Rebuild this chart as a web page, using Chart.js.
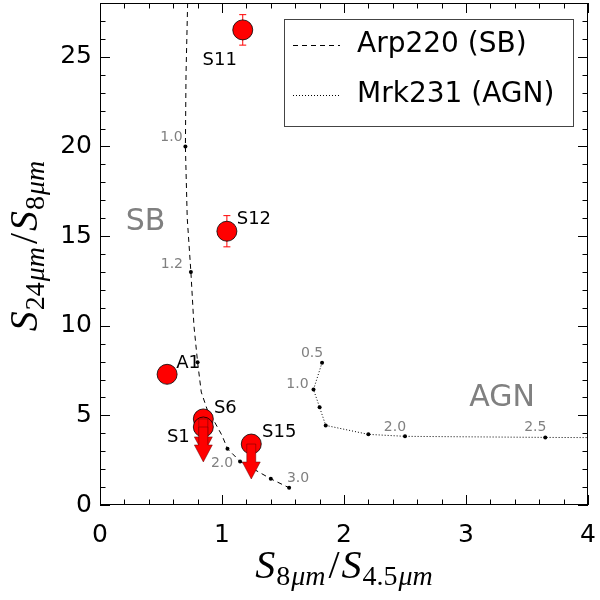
<!DOCTYPE html>
<html>
<head>
<meta charset="utf-8">
<script src="https://cdn.jsdelivr.net/npm/chart.js@4.4.0/dist/chart.umd.min.js"></script>
<style>
html, body { margin: 0; padding: 0; background: #fff; }
</style>
</head>
<body>
<canvas id="chart" width="600" height="600"></canvas>
<script>
// Arp220 (starburst) template track
const sbX = [0.72, 0.705, 0.70, 0.715, 0.745, 0.77, 0.80, 0.83, 0.88, 0.94, 1.0, 1.045, 1.148, 1.40, 1.55];
const sbY = [28.5, 24.0, 20.0, 16.0, 13.0, 10.0, 7.96, 6.3, 5.3, 4.62, 3.88, 3.14, 2.43, 1.46, 0.96];
const sbMarkX = [0.70, 0.745, 0.80, 1.045, 1.148, 1.40, 1.55];
const sbMarkY = [20.0, 13.0, 7.96, 3.14, 2.43, 1.46, 0.96];
const sbMarkLabel = ['1.0', '1.2', '', '', '2.0', '', '3.0'];

// Mrk231 (AGN) template track
const agnX = [1.82, 1.75, 1.80, 1.85, 2.20, 2.50, 3.65, 4.3];
const agnY = [7.94, 6.44, 5.45, 4.44, 3.94, 3.83, 3.77, 3.75];
const agnMarkX = [1.82, 1.75, 1.80, 1.85, 2.20, 2.50, 3.65];
const agnMarkY = [7.94, 6.44, 5.45, 4.44, 3.94, 3.83, 3.77];
const agnMarkLabel = ['0.5', '1.0', '', '', '', '2.0', '2.5'];

// sources
const srcName = ['S11', 'S12', 'A1', 'S6', 'S1', 'S15'];
const srcX = [1.17, 1.04, 0.55, 0.847, 0.847, 1.24];
const srcY = [26.5, 15.27, 7.29, 4.8, 4.35, 3.4];
const srcErr = [0.85, 0.87, 0, 0, 0, 0];
const srcUpper = [false, false, false, true, true, true];
const limitLen = 1.95;

const regionText = ['SB', 'AGN'];
const regionX = [0.373, 3.295];
const regionY = [15.77, 5.95];

const xTicks = [0, 1, 2, 3, 4];
const yTicks = [0, 5, 10, 15, 20, 25];

// label offsets in px
const srcLabelOff = [[-23, 30], [27, -12], [21, -11], [22, -11], [-25, 10], [28, -12]];
const sbLabelOff = [[-14, -9], [-19, -8], null, null, [-18, 2], null, [9, -9]];
const agnLabelOff = [[-10, -9], [-16, -5], null, null, null, [-10, -9], [-10, -10]];

const pts = (xs, ys) => xs.map((x, i) => ({ x: x, y: ys[i] }));

function drawMath(ctx, runs, big, small) {
  // measure then draw runs centred on the origin, baseline at y=0
  const fontOf = r => (r.it ? 'italic ' : '') + (r.sub ? small : big) + 'px "Liberation Serif"';
  let w = 0;
  runs.forEach(r => { ctx.font = fontOf(r); r.w = ctx.measureText(r.t).width + (r.gap || 0); w += r.w; });
  let x = -w / 2;
  ctx.textAlign = 'left';
  ctx.textBaseline = 'alphabetic';
  runs.forEach(r => {
    ctx.font = fontOf(r);
    ctx.fillText(r.t, x, r.sub ? 7 : 0);
    x += r.w;
  });
}

const decor = {
  id: 'decor',
  beforeDatasetsDraw(chart) {
    const { ctx, scales: { x, y } } = chart;
    ctx.save();
    ctx.strokeStyle = '#ff0000';
    ctx.lineWidth = 1;
    srcErr.forEach((e, i) => {
      if (!e) return;
      const px = x.getPixelForValue(srcX[i]);
      const y1 = y.getPixelForValue(srcY[i] + e);
      const y2 = y.getPixelForValue(srcY[i] - e);
      ctx.beginPath();
      ctx.moveTo(px, y1); ctx.lineTo(px, y2);
      ctx.moveTo(px - 3.5, y1); ctx.lineTo(px + 3.5, y1);
      ctx.moveTo(px - 3.5, y2); ctx.lineTo(px + 3.5, y2);
      ctx.stroke();
    });
    ctx.restore();
  },
  afterDatasetsDraw(chart) {
    const { ctx, chartArea: a, scales: { x, y } } = chart;
    ctx.save();

    // upper-limit arrows
    srcUpper.forEach((u, i) => {
      if (!u) return;
      const px = x.getPixelForValue(srcX[i]);
      const py = y.getPixelForValue(srcY[i]);
      const ty = y.getPixelForValue(srcY[i] - limitLen);
      const hy = ty - 17;
      ctx.beginPath();
      ctx.moveTo(px - 4.5, py); ctx.lineTo(px + 4.5, py);
      ctx.lineTo(px + 4.5, hy); ctx.lineTo(px + 9, hy);
      ctx.lineTo(px, ty); ctx.lineTo(px - 9, hy);
      ctx.lineTo(px - 4.5, hy); ctx.closePath();
      ctx.fillStyle = '#ff0000';
      ctx.fill();
      ctx.strokeStyle = 'rgba(90,0,0,0.8)';
      ctx.lineWidth = 0.6;
      ctx.stroke();
    });

    // track labels
    ctx.fillStyle = '#808080';
    ctx.font = '14px "DejaVu Sans"';
    ctx.textAlign = 'center';
    ctx.textBaseline = 'middle';
    sbMarkLabel.forEach((t, i) => {
      if (!t) return;
      ctx.fillText(t, x.getPixelForValue(sbMarkX[i]) + sbLabelOff[i][0], y.getPixelForValue(sbMarkY[i]) + sbLabelOff[i][1]);
    });
    agnMarkLabel.forEach((t, i) => {
      if (!t) return;
      ctx.fillText(t, x.getPixelForValue(agnMarkX[i]) + agnLabelOff[i][0], y.getPixelForValue(agnMarkY[i]) + agnLabelOff[i][1]);
    });

    // region names
    ctx.font = '30px "DejaVu Sans"';
    regionText.forEach((t, i) => ctx.fillText(t, x.getPixelForValue(regionX[i]), y.getPixelForValue(regionY[i])));

    // source names
    ctx.fillStyle = '#000';
    ctx.font = '18px "DejaVu Sans"';
    srcName.forEach((t, i) => {
      ctx.fillText(t, x.getPixelForValue(srcX[i]) + srcLabelOff[i][0], y.getPixelForValue(srcY[i]) + srcLabelOff[i][1]);
    });

    // frame and inward ticks on all sides
    ctx.strokeStyle = '#000';
    ctx.lineWidth = 1;
    ctx.strokeRect(a.left + 0.5, a.top + 0.5, a.right - a.left - 1, a.bottom - a.top - 1);
    ctx.beginPath();
    for (let v = 0; v <= 4.0001; v += 0.2) {
      const px = Math.round(x.getPixelForValue(v)) + 0.5;
      const len = Math.abs(v - Math.round(v)) < 1e-6 ? 10 : 5.5;
      ctx.moveTo(px, a.bottom); ctx.lineTo(px, a.bottom - len);
      ctx.moveTo(px, a.top); ctx.lineTo(px, a.top + len);
    }
    for (let v = 0; v <= 28; v += 1) {
      const py = Math.round(y.getPixelForValue(v)) + 0.5;
      const len = v % 5 === 0 ? 10 : 5.5;
      ctx.moveTo(a.left, py); ctx.lineTo(a.left + len, py);
      ctx.moveTo(a.right, py); ctx.lineTo(a.right - len, py);
    }
    ctx.stroke();

    // legend
    const lx = 284, ly = 19, lw = 289, lh = 107;
    ctx.fillStyle = '#fff';
    ctx.fillRect(lx, ly, lw, lh);
    ctx.strokeStyle = '#444';
    ctx.strokeRect(lx + 0.5, ly + 0.5, lw, lh);
    const legendSets = chart.data.datasets.filter(d => d.legendLabel);
    legendSets.forEach((d, i) => {
      const ry = ly + 26 + i * 50;
      ctx.beginPath();
      ctx.setLineDash(d.borderDash);
      ctx.strokeStyle = '#000';
      ctx.moveTo(lx + 9, ry + 0.5); ctx.lineTo(lx + 56, ry + 0.5);
      ctx.stroke();
      ctx.setLineDash([]);
      ctx.fillStyle = '#000';
      ctx.font = '28px "DejaVu Sans"';
      ctx.textAlign = 'left';
      ctx.textBaseline = 'middle';
      ctx.fillText(d.legendLabel, lx + 73, ry);
    });

    // axis titles
    ctx.fillStyle = '#000';
    ctx.save();
    ctx.translate((a.left + a.right) / 2, 578);
    drawMath(ctx, [
      { t: 'S', it: true, gap: 1 }, { t: '8', sub: true, gap: 1 }, { t: 'μm', it: true, sub: true, gap: 3 },
      { t: '/', gap: 2 }, { t: 'S', it: true, gap: 1 }, { t: '4.5', sub: true, gap: 1 }, { t: 'μm', it: true, sub: true }
    ], 40, 28);
    ctx.restore();
    ctx.save();
    ctx.translate(37, 246);
    ctx.rotate(-Math.PI / 2);
    drawMath(ctx, [
      { t: 'S', it: true, gap: 1 }, { t: '24', sub: true, gap: 1 }, { t: 'μm', it: true, sub: true, gap: 3 },
      { t: '/', gap: 2 }, { t: 'S', it: true, gap: 1 }, { t: '8', sub: true, gap: 1 }, { t: 'μm', it: true, sub: true }
    ], 40, 28);
    ctx.restore();

    ctx.restore();
  }
};

new Chart(document.getElementById('chart'), {
  type: 'scatter',
  data: {
    datasets: [
      {
        data: pts(srcX, srcY), order: 0, showLine: false,
        pointRadius: 10, pointHoverRadius: 10,
        backgroundColor: '#ff0000', borderColor: '#000', borderWidth: 0.8
      },
      {
        data: pts(sbMarkX, sbMarkY), order: 1, showLine: false,
        pointRadius: 2, backgroundColor: '#000', borderColor: '#000', borderWidth: 0
      },
      {
        data: pts(agnMarkX, agnMarkY), order: 1, showLine: false,
        pointRadius: 2, backgroundColor: '#000', borderColor: '#000', borderWidth: 0
      },
      {
        legendLabel: 'Arp220 (SB)',
        data: pts(sbX, sbY), order: 2, showLine: true, tension: 0,
        pointRadius: 0, borderColor: '#000', borderWidth: 1, borderDash: [5, 4]
      },
      {
        legendLabel: 'Mrk231 (AGN)',
        data: pts(agnX, agnY), order: 2, showLine: true, tension: 0,
        pointRadius: 0, borderColor: '#000', borderWidth: 1, borderDash: [1, 2]
      }
    ]
  },
  options: {
    responsive: false,
    animation: false,
    events: [],
    layout: { autoPadding: false, padding: { top: 3, right: 12, left: 0, bottom: 0 } },
    plugins: { legend: { display: false }, tooltip: { enabled: false } },
    scales: {
      x: {
        type: 'linear', min: 0, max: 4,
        afterBuildTicks: s => { s.ticks = xTicks.map(v => ({ value: v })); },
        ticks: { font: { family: 'DejaVu Sans', size: 25 }, color: '#000', padding: 15, maxRotation: 0 },
        grid: { display: false, drawTicks: false },
        border: { display: false },
        afterFit: s => { s.height = 95; s.paddingLeft = 0; s.paddingRight = 0; }
      },
      y: {
        type: 'linear', min: 0, max: 28,
        afterBuildTicks: s => { s.ticks = yTicks.map(v => ({ value: v })); },
        ticks: { font: { family: 'DejaVu Sans', size: 25 }, color: '#000', padding: 8 },
        grid: { display: false, drawTicks: false },
        border: { display: false },
        afterFit: s => { s.width = 100; s.paddingTop = 0; s.paddingBottom = 0; }
      }
    }
  },
  plugins: [decor]
});
</script>
</body>
</html>
